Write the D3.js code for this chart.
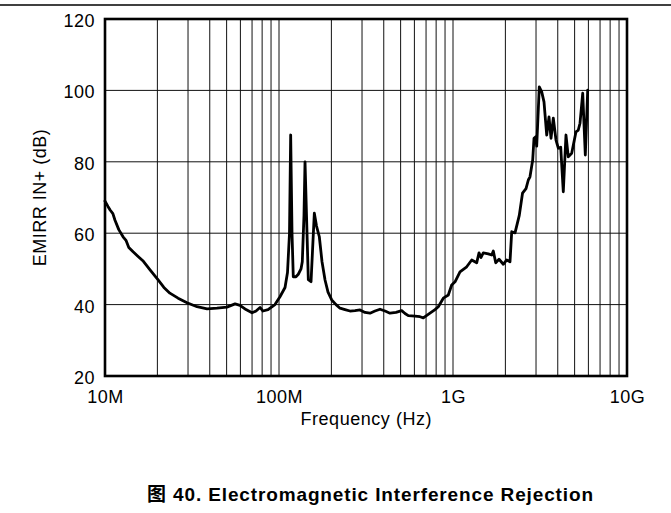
<!DOCTYPE html>
<html>
<head>
<meta charset="utf-8">
<script src="https://cdn.jsdelivr.net/npm/d3@7"></script>
<style>
  html, body { margin: 0; padding: 0; background: #fff; }
  svg { display: block; }
  text { font-family: "Liberation Sans", Arial, "Noto Sans CJK SC", sans-serif; fill: #000; }
</style>
</head>
<body>
<svg id="chart" width="671" height="513"></svg>
<script>
// ---- data (frequency in MHz, EMIRR in dB) ----
const freqMHz = [10, 10.4, 10.7, 11.1, 11.4, 12.0, 12.7, 13.2, 13.7, 14.5, 15.5, 16.5, 18.1, 20.2, 21.8, 23.6, 26.3, 29.6, 33.8, 38.6,
  44.0, 50.2, 55.9, 59.7, 64.6, 70.0, 73.8, 77.8, 80.9, 86.5, 94.8, 101.3, 108.3, 111.9, 114.9, 116.7, 118.8, 120.8, 125.2, 129.1,
  133.8, 136.1, 139.2, 141.1, 143.9, 147.4, 152.8, 155.8, 159.6, 164.3, 170.5, 176.7, 183.9, 191.3, 200.9, 212.7, 224.2, 239.5, 255.9, 273.4,
  292.1, 312.2, 333.4, 356.2, 380.7, 406.7, 434.5, 470.3, 507.3, 529.8, 553.5, 604.8, 646.1, 675, 737.7, 788, 823.3, 879.6, 939.7, 982.9,
  1027, 1097, 1199, 1281, 1368, 1411, 1449, 1493, 1596, 1669, 1705, 1760, 1839, 1946, 2035, 2126, 2175, 2272, 2404, 2509,
  2628, 2709, 2770, 2871, 2921, 2987, 3027, 3133, 3235, 3334, 3456, 3562, 3658, 3771, 3908, 4029, 4159, 4304, 4460, 4598,
  4810, 5092, 5249, 5370, 5565, 5760, 5946];
const emirrDb = [69, 67.5, 66.5, 65.5, 63.7, 61, 59, 58, 56, 54.8, 53.5, 52.3, 49.8, 46.9, 44.8, 43.2, 41.8, 40.5, 39.4, 38.8,
  39.0, 39.3, 40.2, 39.8, 38.6, 37.7, 38.2, 39.2, 38.2, 38.6, 40, 42.2, 44.8, 49, 60, 87.5, 60, 47.8, 47.8, 48.5,
  50, 52, 65, 80, 65, 47, 46.4, 55, 65.6, 62, 59, 52, 46.9, 43.5, 41.3, 40, 39, 38.6, 38.2, 38.3,
  38.5, 37.8, 37.6, 38.2, 38.7, 38.2, 37.6, 37.8, 38.3, 37.5, 36.9, 36.8, 36.6, 36.3, 37.6, 38.6, 39.4, 41.8, 42.7, 45.5,
  46.4, 49.2, 50.6, 52.5, 51.7, 54.5, 53.2, 54.5, 54.2, 53.9, 55, 51.7, 52.7, 51.3, 52.5, 52, 60.4, 60.1, 65, 71.2,
  72.5, 74.9, 75.8, 80.5, 86.6, 87, 84.4, 101, 99.6, 96.8, 87.5, 92.6, 86.6, 92.2, 86.1, 83.8, 84.1, 71.6, 87.5, 81.4,
  82.4, 88.4, 88.9, 90.8, 99.2, 81.9, 100.1];

const xTickValues = [1e7, 1e8, 1e9, 1e10];
const xTickLabels = ["10M", "100M", "1G", "10G"];
const yTickValues = [20, 40, 60, 80, 100, 120];
const xLabel = "Frequency (Hz)";
const yLabel = "EMIRR IN+ (dB)";
const title = "图 40. Electromagnetic Interference Rejection";

// ---- layout ----
const L = 105, R = 627, T = 19, B = 376;
const svg = d3.select("#chart");

// top rule
svg.append("line").attr("x1", 0).attr("x2", 671).attr("y1", 5).attr("y2", 5)
  .attr("stroke", "#000").attr("stroke-width", 1.4);

const x = d3.scaleLog().domain([1e7, 1e10]).range([L, R]);
const y = d3.scaleLinear().domain([20, 120]).range([B, T]);

// grid
const minor = [];
[1e7, 1e8, 1e9].forEach(dec => { for (let k = 1; k <= 9; k++) minor.push(dec * k); });
const g = svg.append("g");
g.selectAll("line.v").data(minor.filter(v => v > 1e7)).join("line")
  .attr("x1", d => x(d)).attr("x2", d => x(d)).attr("y1", T).attr("y2", B)
  .attr("stroke", "#111").attr("stroke-width", 1);
g.selectAll("line.h").data(yTickValues.filter(v => v > 20 && v < 120)).join("line")
  .attr("x1", L).attr("x2", R).attr("y1", d => y(d)).attr("y2", d => y(d))
  .attr("stroke", "#111").attr("stroke-width", 1);

// axes (labels only)
const xAxis = d3.axisBottom(x).tickValues(xTickValues)
  .tickFormat((d, i) => xTickLabels[i]).tickSize(0).tickPadding(0);
const gx = svg.append("g").attr("transform", `translate(0,${B})`).call(xAxis);
gx.select(".domain").remove();
gx.selectAll("text").attr("dy", null).attr("y", 27).attr("font-size", 18)
  .style("letter-spacing", "0.5px").attr("fill", "#000");

const yAxis = d3.axisLeft(y).tickValues(yTickValues).tickSize(0).tickPadding(0);
const gy = svg.append("g").attr("transform", `translate(${L},0)`).call(yAxis);
gy.select(".domain").remove();
gy.selectAll("text").attr("x", -10).attr("dy", "0.42em").attr("font-size", 18)
  .style("letter-spacing", "0.5px").attr("fill", "#000");
svg.selectAll(".tick text").attr("font-family", null);
svg.selectAll("g").attr("font-family", null);

// data line
const data = freqMHz.map((f, i) => ({ f: f * 1e6, v: emirrDb[i] }));
const line = d3.line().x(d => x(d.f)).y(d => y(d.v));
svg.append("path").datum(data).attr("d", line)
  .attr("fill", "none").attr("stroke", "#000").attr("stroke-width", 2.8)
  .attr("stroke-linejoin", "round").attr("stroke-linecap", "round");

// frame
svg.append("rect").attr("x", L).attr("y", T).attr("width", R - L).attr("height", B - T)
  .attr("fill", "none").attr("stroke", "#000").attr("stroke-width", 2.6);

// axis titles
svg.append("text").attr("x", (L + R) / 2).attr("y", 425).attr("text-anchor", "middle")
  .attr("font-size", 18).attr("textLength", 131).attr("lengthAdjust", "spacing").text(xLabel);
svg.append("text").attr("transform", `translate(46,${(T + B) / 2}) rotate(-90)`)
  .attr("text-anchor", "middle").attr("font-size", 18).style("letter-spacing", "0.5px").text(yLabel);

// caption
svg.append("text").attr("x", 370).attr("y", 501).attr("text-anchor", "middle")
  .attr("font-size", 19).attr("font-weight", "bold")
  .attr("textLength", 446).attr("lengthAdjust", "spacing").text(title);
</script>
</body>
</html>
